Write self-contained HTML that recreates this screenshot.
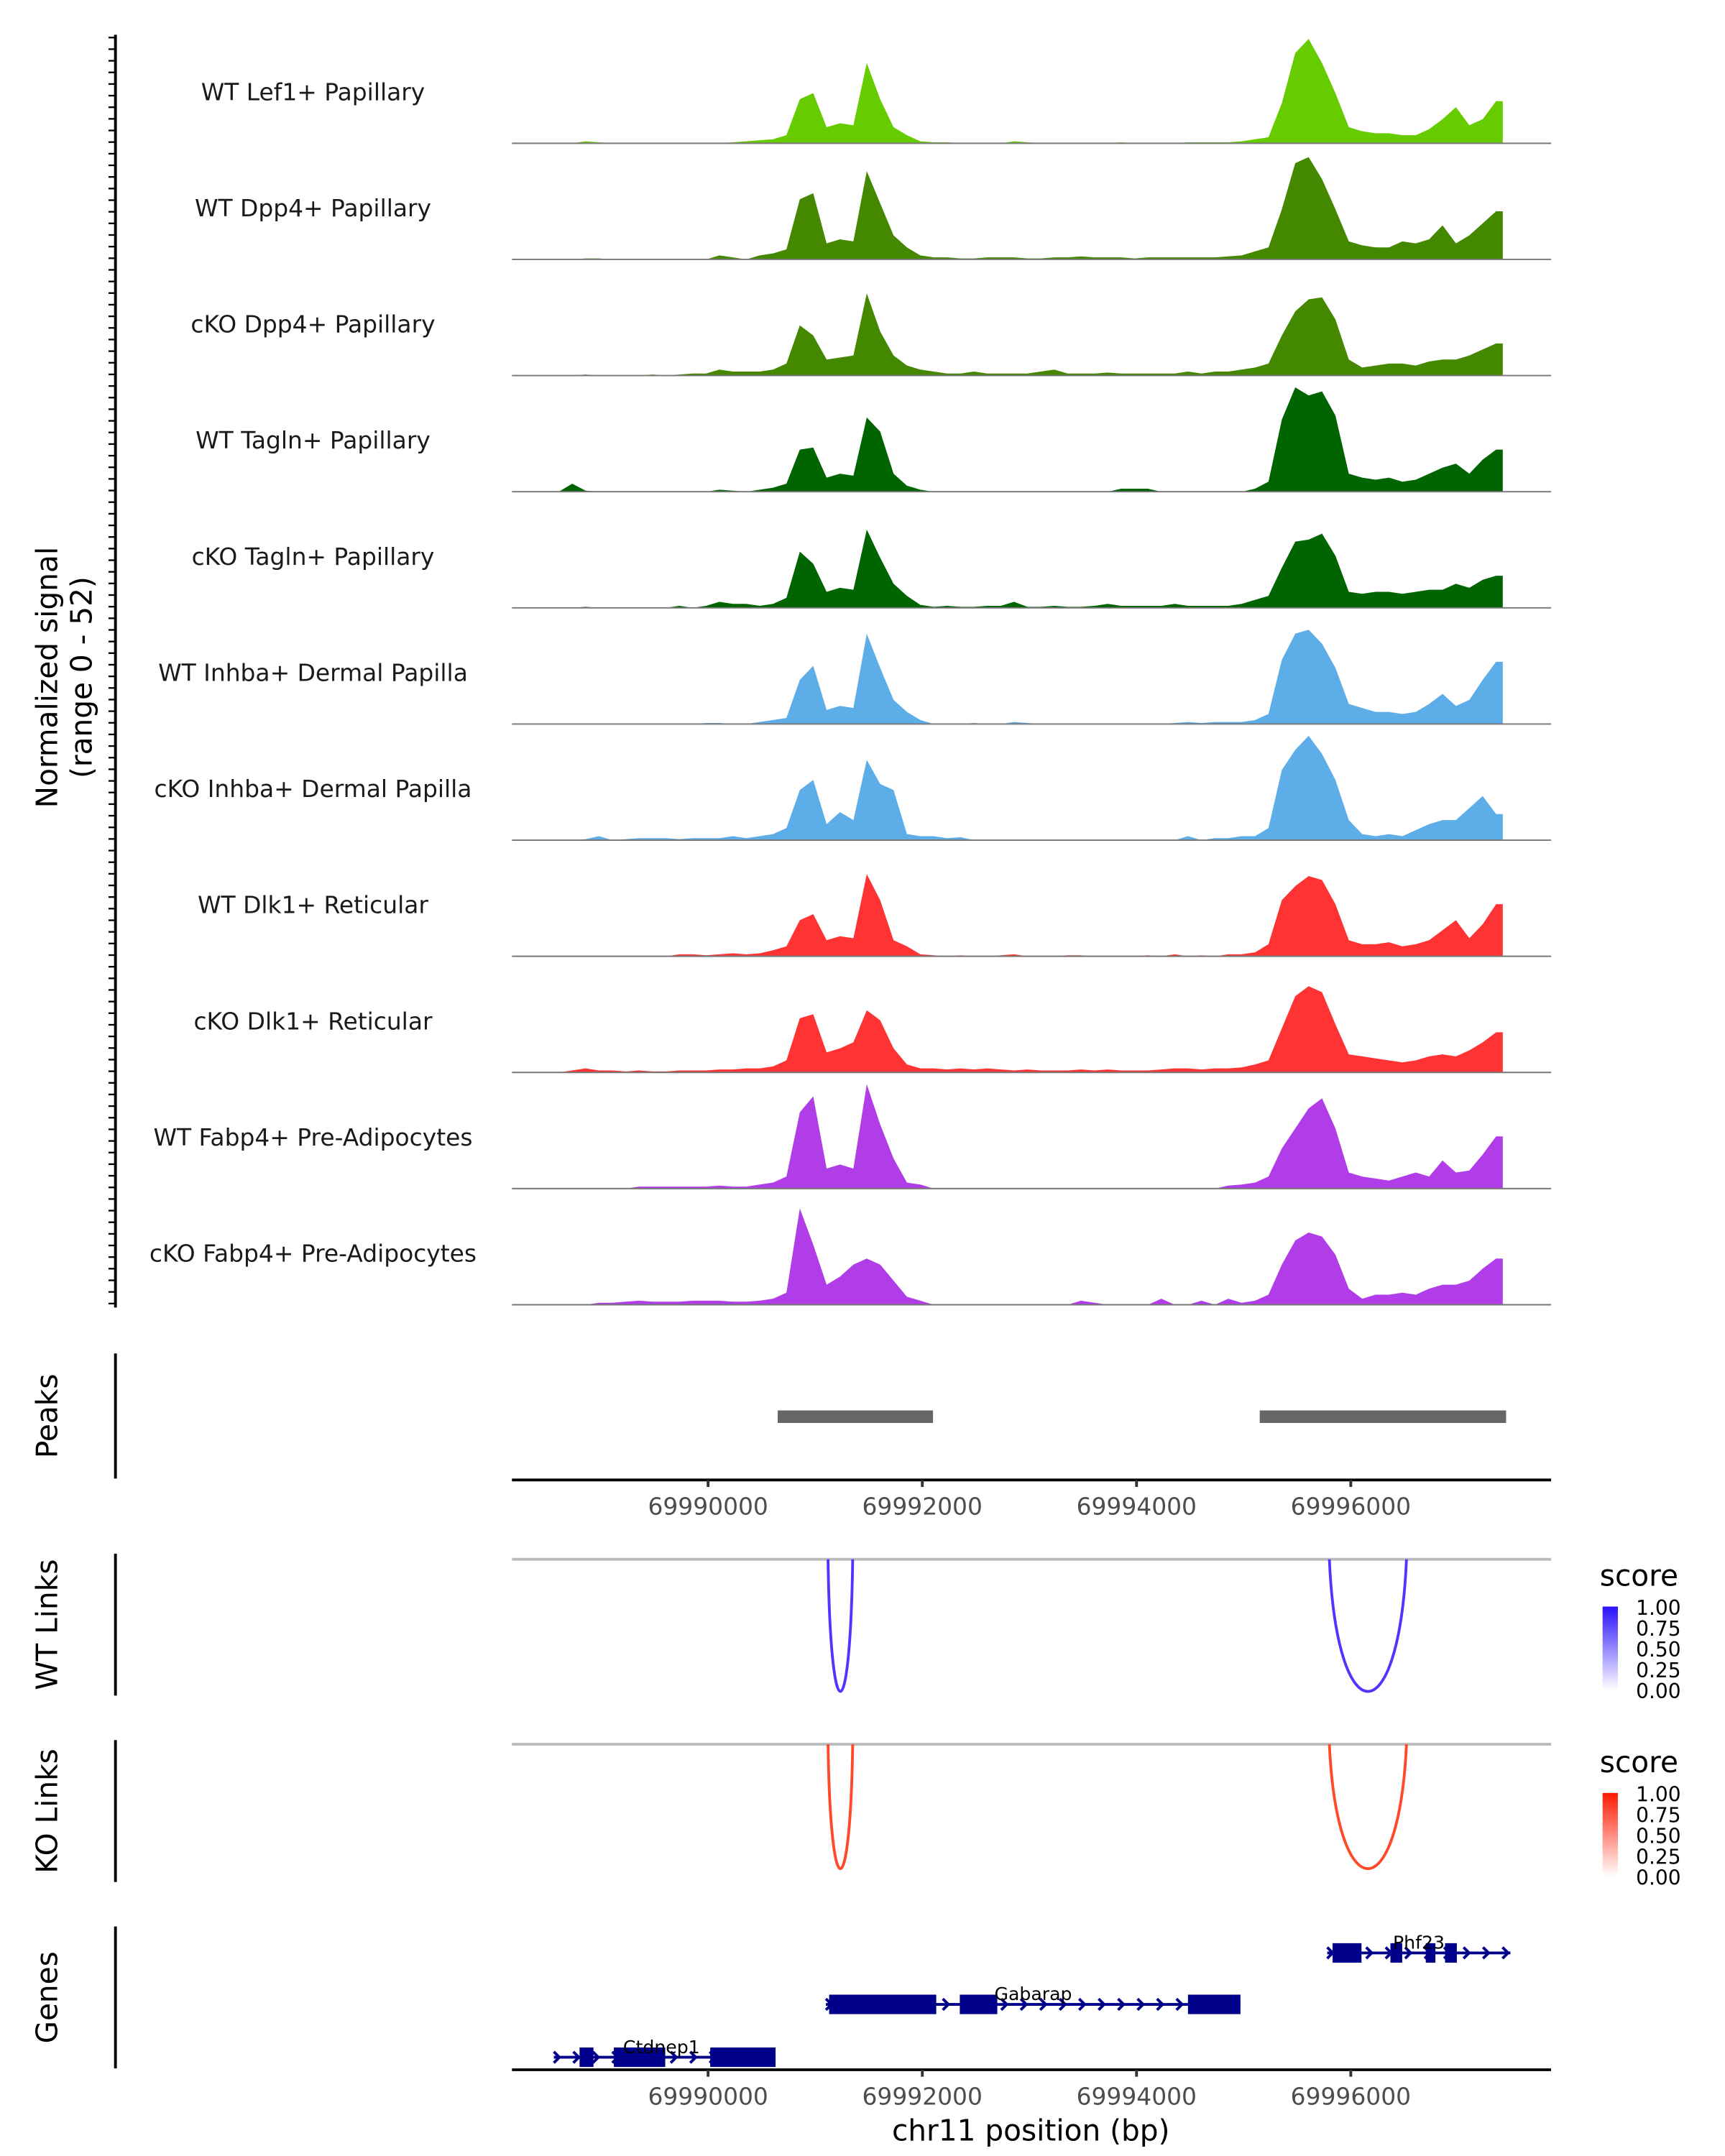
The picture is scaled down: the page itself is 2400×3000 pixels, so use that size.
<!DOCTYPE html>
<html><head><meta charset="utf-8"><style>
html,body{margin:0;padding:0;background:#fff;}
svg{display:block;font-family:"DejaVu Sans","Liberation Sans",sans-serif;}
</style></head><body>
<svg id="chart" width="2400" height="3000" viewBox="0 0 1240 1550" preserveAspectRatio="none" xmlns="http://www.w3.org/2000/svg">
<defs>
<linearGradient id="gBlue" x1="0" y1="0" x2="0" y2="1"><stop offset="0" stop-color="#2a10ff"/><stop offset="1" stop-color="#ffffff"/></linearGradient>
<linearGradient id="gRed" x1="0" y1="0" x2="0" y2="1"><stop offset="0" stop-color="#ff1a00"/><stop offset="1" stop-color="#ffffff"/></linearGradient>
</defs>
<g id="tracks"></g>
<line x1="83" y1="25" x2="83" y2="940" stroke="#000" stroke-width="2"/>
<g id="yticks"></g>
<text transform="translate(41,487) rotate(-90)" text-anchor="middle" font-size="21">Normalized signal</text>
<text transform="translate(66,487) rotate(-90)" text-anchor="middle" font-size="21">(range 0 - 52)</text>

<line x1="83" y1="973" x2="83" y2="1063" stroke="#000" stroke-width="2"/>
<text transform="translate(41,1018) rotate(-90)" text-anchor="middle" font-size="21">Peaks</text>
<g id="peaks"></g>
<g id="axis1"></g>

<line x1="83" y1="1117" x2="83" y2="1219" stroke="#000" stroke-width="2"/>
<text transform="translate(41,1168) rotate(-90)" text-anchor="middle" font-size="21">WT Links</text>
<line x1="368" y1="1121" x2="1115" y2="1121" stroke="#bbb" stroke-width="2"/>
<g id="wtlinks"></g>

<line x1="83" y1="1251" x2="83" y2="1353" stroke="#000" stroke-width="2"/>
<text transform="translate(41,1302) rotate(-90)" text-anchor="middle" font-size="21">KO Links</text>
<line x1="368" y1="1254" x2="1115" y2="1254" stroke="#bbb" stroke-width="2"/>
<g id="kolinks"></g>

<g>
<text x="1150" y="1140" font-size="21">score</text>
<rect x="1152" y="1155" width="11" height="60" fill="url(#gBlue)"/>
<g font-size="14.5"><text x="1176" y="1161">1.00</text><text x="1176" y="1176">0.75</text><text x="1176" y="1191">0.50</text><text x="1176" y="1206">0.25</text><text x="1176" y="1221">0.00</text></g>
</g>
<g>
<text x="1150" y="1274" font-size="21">score</text>
<rect x="1152" y="1289" width="11" height="60" fill="url(#gRed)"/>
<g font-size="14.5"><text x="1176" y="1295">1.00</text><text x="1176" y="1310">0.75</text><text x="1176" y="1325">0.50</text><text x="1176" y="1340">0.25</text><text x="1176" y="1355">0.00</text></g>
</g>

<line x1="83" y1="1385" x2="83" y2="1487" stroke="#000" stroke-width="2"/>
<text transform="translate(41,1436) rotate(-90)" text-anchor="middle" font-size="21">Genes</text>
<g id="genes"></g>
<g id="axis2"></g>
<text x="741" y="1539" text-anchor="middle" font-size="21">chr11 position (bp)</text>
</svg>
<script>
const START = 69988169, BIN = 125;
const trackNames = ["WT Lef1+ Papillary","WT Dpp4+ Papillary","cKO Dpp4+ Papillary","WT Tagln+ Papillary","cKO Tagln+ Papillary","WT Inhba+ Dermal Papilla","cKO Inhba+ Dermal Papilla","WT Dlk1+ Reticular","cKO Dlk1+ Reticular","WT Fabp4+ Pre-Adipocytes","cKO Fabp4+ Pre-Adipocytes"];
const trackColors = ["#66cc00","#448800","#448800","#006400","#006400","#5dade8","#5dade8","#ff3333","#ff3333","#b03de8","#b03de8"];
const sLef1WT = [0,0,0,0,0,1,0.5,0,0,0, 0,0,0,0,0,0,0.5,1,1.5,2, 4,22,25,8,10,9,40,22,8,4,1, 0.5,0.5,0,0,0,0,1,0.5,0,0, 0,0,0,0,0.5,0,0,0,0,0.5, 0.5,0.5,0.5,1,2, 3,20,45,52,40,25,8,6,5,5,4,4,7,12,18,9,12,21];
const sDpp4WT = [0,0,0,0,0,0.5,0.5,0,0,0, 0,0,0,0,0,2,1,0,2,3, 5,30,33,8,10,9,44,28,12,6,2, 1,1,0.5,0.5,1,1,1,0.5,0.5,1, 1,1.5,1,1,1,0.5,1,1,1,1, 1,1,1.5,2,4, 6,25,48,51,40,25,9,7,6,6,9,8,10,17,8,12,18,24];
const sDpp4KO = [0,0,0,0,0,0.5,0,0,0,0, 0.5,0,0.5,1,1,3,2,2,2,3, 6,25,20,8,9,10,41,22,10,5,3, 2,1,1,2,1,1,1,1,2,3, 1,1,1,1.5,1,1,1,1,1,2, 1,2,2,3,4, 6,20,32,38,39,28,8,4,5,6,6,5,7,8,8,10,13,16];
const sTaglnWT = [0,0,0,0,4,0.5,0,0,0,0, 0,0,0,0,0,1,0.5,0,1,2, 4,21,22,7,9,8,37,30,9,3,1, 0,0,0,0,0,0,0,0,0,0, 0,0,0,0,1.5,1.5,1.5,0,0,0, 0,0,0,0,1.5, 5,36,52,48,50,38,9,7,6,7,5,6,9,12,14,9,16,21];
const sTaglnKO = [0,0,0,0,0,0.5,0,0,0,0, 0,0,1,0,1,3,2,2,1,2, 5,28,22,8,10,9,39,25,12,6,1.5, 0.5,1,0.5,0.5,1,1,3,0.5,0.5,1, 0.5,0.5,1,2,1,1,1,1,2,1, 1,1,1,2,4, 6,20,33,34,37,26,8,7,8,8,7,8,9,9,12,10,14,16];
const sInhbaWT = [0,0,0,0,0,0,0,0,0,0, 0,0,0,0,0.5,0.5,0,0,1,2, 3,22,29,7,9,8,45,28,12,6,2, 0,0,0,0.5,0,0,1,0.5,0,0, 0,0,0,0,0,0,0,0,0.5,1, 0.5,1,1,1,2, 5,32,45,47,40,28,10,8,6,6,5,6,10,15,9,12,22,31];
const sInhbaKO = [0,0,0,0,0,0.5,2,0,0.5,1, 1,1,0.5,1,1,1,2,1,2,3, 6,25,30,8,14,10,40,28,25,3,2, 2,1,1.5,0,0,0,0,0,0,0, 0,0,0,0,0,0,0,0,0,2, 0,1,1,2,2, 6,35,45,52,43,30,10,3,2,3,2,5,8,10,10,16,22,13];
const sDlk1WT = [0,0,0,0,0,0,0,0,0,0, 0,0,1,1,0.5,1,1.5,1,1.5,3, 5,18,21,8,10,9,41,28,8,5,1, 0.5,0,0.5,0,0,0.5,1,0,0,0, 0.5,0.5,0,0,0,0,0.5,0,1,0, 0.5,0,1,1,2, 6,28,35,40,38,26,8,6,6,7,5,6,8,13,18,9,16,26];
const sDlk1KO = [0,0,0,0,1,2,1,1,0.5,1, 0.5,0.5,1,1,1,1.5,1.5,2,2,3, 6,27,29,10,12,15,31,26,12,4,2, 2,1.5,2,1.5,2,1.5,1,1.5,1,1, 1,1.5,1,1.5,1,1,1,1.5,2,2, 1.5,2,2,2.5,4, 6,22,38,43,40,24,9,8,7,6,5,6,8,9,8,11,15,20];
const sFabp4WT = [0,0,0,0,0,0,0,0,0,1, 1,1,1,1,1,1.5,1,1,2,3, 6,38,46,10,12,10,52,32,15,3,2, 0,0,0,0,0,0,0,0,0,0, 0,0,0,0,0,0,0,0,0,0, 0,0,1.5,2,3, 6,20,30,40,45,30,8,6,5,4,6,8,6,14,8,9,17,26];
const sFabp4KO = [0,0,0,0,0,0,1,1,1.5,2, 1.5,1.5,1.5,2,2,2,1.5,1.5,2,3, 6,48,30,10,14,20,23,20,12,4,2, 0,0,0,0,0,0,0,0,0,0, 0,2,1,0,0,0,0,3,0,0, 2,0,3,1,2, 5,20,32,36,34,25,8,3,5,5,6,5,8,10,10,12,18,23];
const trackValues = [sLef1WT,sDpp4WT,sDpp4KO,sTaglnWT,sTaglnKO,sInhbaWT,sInhbaKO,sDlk1WT,sDlk1KO,sFabp4WT,sFabp4KO];
const yMax = 52;
const tickLabels = ["69990000","69992000","69994000","69996000"];
const tickPositions = [69990000,69992000,69994000,69996000];
const peakStarts = [69990650,69995150];
const peakEnds = [69992100,69997450];
const wtLinkStarts = [69991120,69995800], wtLinkEnds = [69991350,69996520], wtLinkScores = [0.85,0.85];
const koLinkStarts = [69991120,69995800], koLinkEnds = [69991350,69996520], koLinkScores = [0.8,0.8];
const geneNames = ["Phf23","Gabarap","Ctdnep1"];
const geneStarts = [69995780,69991100,69988560];
const geneEnds = [69997490,69994970,69990570];
const geneExonStarts = [[69995830,69996370,69996700,69996880],[69991130,69992350,69994480],[69988800,69989120,69990020]];
const geneExonEnds = [[69996100,69996480,69996790,69996990],[69992130,69992700,69994970],[69988930,69989600,69990630]];

const NS="http://www.w3.org/2000/svg";
const xS = bp => 509 + (bp-69990000)*0.077;
function mk(tag, attrs, parent){const e=document.createElementNS(NS,tag);for(const k in attrs)e.setAttribute(k,attrs[k]);parent.appendChild(e);return e;}
const tracksG=document.getElementById('tracks');
const TOP=103, STEP=83.5, H=75;
trackValues.forEach((vals,i)=>{
  const base=TOP+i*STEP;
  const yS=v=>base - v/yMax*H;
  const g=mk('g',{},tracksG);
  
  
  let d='M'+xS(START)+','+base;
  vals.forEach((v,j)=>{
    const xc=xS(START+(j+0.5)*BIN);
    if(j===0) d+=' L'+xS(START).toFixed(2)+','+yS(v).toFixed(2);
    d+=' L'+xc.toFixed(2)+','+yS(v).toFixed(2);
  });
  const xe=xS(START+vals.length*BIN);
  d+=' L'+xe.toFixed(2)+','+yS(vals[vals.length-1]).toFixed(2)+' L'+xe+','+base+' Z';
  const p=mk('path',{d:d,fill:trackColors[i]},g);
  
  
  const l=mk('line',{x1:368,x2:1115,y1:base,y2:base,stroke:'#777','stroke-width':1},g);
  
  
  const t=mk('text',{x:225,y:base-31,'text-anchor':'middle','font-size':17,fill:'#1a1a1a'},g);
  
  
  t.textContent=trackNames[i];
});
const yt=document.getElementById('yticks');
for(let y=27;y<=940;y+=8.35){const l=mk('line',{x1:78,x2:83,y1:y,y2:y,stroke:'#000','stroke-width':1.2},yt);
  
  }
const pk=document.getElementById('peaks');
peakStarts.forEach((s,i)=>{const r=mk('rect',{x:xS(s),y:1014,width:xS(peakEnds[i])-xS(s),height:9,fill:'#666'},pk);
  
  });
function axis(id,y,ly){
  const g=document.getElementById(id);
  const l=mk('line',{x1:368,x2:1115,y1:y,y2:y,stroke:'#000','stroke-width':2},g);
  
  
  tickPositions.forEach((p,i)=>{
    const t=mk('line',{x1:xS(p),x2:xS(p),y1:y,y2:y+5,stroke:'#333','stroke-width':2},g);
    
    
    const tx=mk('text',{x:xS(p),y:ly,'text-anchor':'middle','font-size':17,fill:'#4d4d4d'},g);
    
    
    tx.textContent=tickLabels[i];
  });
}
axis('axis1',1064,1089);
axis('axis2',1488,1513);
function links(id,starts,ends,scores,top,color){
  const g=document.getElementById(id);
  starts.forEach((s,i)=>{
    const x1=xS(s),x2=xS(ends[i]);
    const bottom=top+95*scores[i]/0.85;
    const c=(8*bottom-2*top)/6;
    const p=mk('path',{d:`M${x1},${top} C${x1+(x2-x1)*0.1},${c} ${x2-(x2-x1)*0.1},${c} ${x2},${top}`,fill:'none',stroke:color,'stroke-width':2},g);
    
    
  });
}
links('wtlinks',wtLinkStarts,wtLinkEnds,wtLinkScores,1121,'#5533ff');
links('kolinks',koLinkStarts,koLinkEnds,koLinkScores,1254,'#ff4a2a');
const gg=document.getElementById('genes');
const geneY=[1404,1441,1479];
geneNames.forEach((n,i)=>{
  const y=geneY[i], g=mk('g',{},gg);
  
  
  const x0=xS(geneStarts[i]), x1=xS(geneEnds[i]);
  mk('line',{x1:x0,x2:x1,y1:y,y2:y,stroke:'#00008b','stroke-width':2},g);
  for(let x=x0+4;x<=x1;x+=14){mk('path',{d:`M${x-4},${y-4} L${x},${y} L${x-4},${y+4}`,fill:'none',stroke:'#00008b','stroke-width':2},g);}
  geneExonStarts[i].forEach((s,j)=>{const a=xS(s),b=xS(geneExonEnds[i][j]);
    mk('rect',{x:a,y:y-7,width:b-a,height:14,fill:'#00008b'},g);});
  const t=mk('text',{x:(xS(geneStarts[i])+xS(geneEnds[i]))/2,y:y-3,'text-anchor':'middle','font-size':13,fill:'#000'},g);
  
  
  t.textContent=n;
});
</script>
</body></html>
